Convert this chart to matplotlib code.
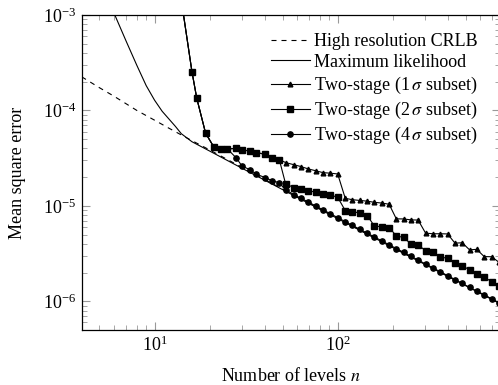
import numpy as np
import matplotlib
matplotlib.use('Agg')
import matplotlib.pyplot as plt

plt.rcParams['font.family'] = 'serif'
plt.rcParams['font.serif'] = ['Liberation Serif', 'DejaVu Serif']
plt.rcParams['mathtext.fontset'] = 'stix'

# high resolution CRLB (dashed)
crlb_n = [4, 5, 6, 8, 10, 12, 15, 20, 30, 50, 100, 200, 400, 770]
crlb = [2.25e-4, 1.73e-4, 1.41e-4, 1.0e-4, 7.9e-5, 6.5e-5, 5.15e-5, 3.85e-5,
        2.53e-5, 1.5e-5, 7.4e-6, 3.67e-6, 1.83e-6, 9.5e-7]

# maximum likelihood (solid)
ml_n = [5, 6, 7, 8, 9, 10, 11, 12, 13, 14, 16, 20, 30, 50, 100, 200, 400, 770]
ml = [2.4e-3, 1.05e-3, 5.3e-4, 2.97e-4, 1.82e-4, 1.28e-4, 9.8e-5, 8.1e-5, 6.8e-5,
      5.7e-5, 4.7e-5, 3.75e-5, 2.48e-5, 1.48e-5, 7.35e-6, 3.65e-6, 1.82e-6, 9.45e-7]

# two-stage estimators, number of levels
n = [14, 16, 17, 19, 21, 23, 25, 28, 30, 33, 36, 40, 44, 48, 52, 58, 63, 69, 76,
     83, 91, 100, 110, 120, 132, 145, 158, 174, 191, 209, 229, 251, 275, 302,
     331, 363, 398, 437, 479, 525, 575, 631, 692, 759]

sub1 = [1.43e-3, 2.55e-4, 1.34e-4, 5.77e-5, 4.18e-5, 3.95e-5, 3.95e-5, 4.0e-5,
        3.86e-5, 3.76e-5, 3.61e-5, 3.48e-5, 3.2e-5, 3.05e-5,
        2.84e-5, 2.69e-5, 2.58e-5, 2.44e-5, 2.33e-5, 2.23e-5, 2.2e-5, 2.16e-5,
        1.2e-5, 1.16e-5, 1.14e-5, 1.12e-5, 1.09e-5, 1.07e-5, 1.04e-5,
        7.31e-6, 7.29e-6, 7.13e-6, 7.1e-6, 5.18e-6, 5.1e-6, 5.1e-6, 5.08e-6,
        4.07e-6, 4.1e-6, 3.46e-6, 3.5e-6, 2.94e-6, 2.93e-6, 2.57e-6]

sub2 = [1.43e-3, 2.55e-4, 1.34e-4, 5.77e-5, 4.18e-5, 3.95e-5, 3.95e-5, 4.0e-5,
        3.86e-5, 3.76e-5, 3.61e-5, 3.48e-5, 3.2e-5, 3.05e-5,
        1.69e-5, 1.55e-5, 1.5e-5, 1.44e-5, 1.39e-5, 1.34e-5, 1.3e-5, 1.23e-5,
        8.93e-6, 8.72e-6, 8.4e-6, 7.91e-6, 6.22e-6, 5.98e-6, 5.93e-6,
        4.85e-6, 4.66e-6, 4.0e-6, 3.91e-6, 3.38e-6, 3.27e-6, 2.9e-6, 2.83e-6,
        2.51e-6, 2.35e-6, 2.14e-6, 1.93e-6, 1.79e-6, 1.61e-6, 1.43e-6]

sub4 = [1.43e-3, 2.55e-4, 1.34e-4, 5.77e-5, 4.18e-5, 3.95e-5, 3.95e-5, 3.16e-5,
        2.62e-5, 2.4e-5, 2.15e-5, 1.98e-5, 1.83e-5, 1.75e-5,
        1.46e-5, 1.31e-5, 1.2e-5, 1.1e-5, 9.95e-6, 9.1e-6, 8.29e-6, 7.53e-6,
        6.84e-6, 6.26e-6, 5.69e-6, 5.17e-6, 4.74e-6, 4.3e-6, 3.91e-6,
        3.57e-6, 3.26e-6, 2.97e-6, 2.7e-6, 2.46e-6, 2.24e-6, 2.04e-6, 1.86e-6,
        1.69e-6, 1.54e-6, 1.4e-6, 1.28e-6, 1.17e-6, 1.06e-6, 9.67e-7]

fs = 13

fig = plt.figure(figsize=(4.98, 3.85), dpi=100)
ax = fig.add_axes([81.7 / 498, 55 / 385, (500 - 81.7) / 498, 315 / 385])

ax.plot(crlb_n, crlb, color='k', lw=0.8, dashes=(4.5, 4.5), label='High resolution CRLB')
ax.plot(ml_n, ml, color='k', lw=0.8, label='Maximum likelihood')
ax.plot(n, sub1, color='k', lw=0.8, marker='^', ms=3.4, label=r'Two-stage (1$\,\sigma$ subset)')
ax.plot(n, sub2, color='k', lw=0.8, marker='s', ms=4.1, label=r'Two-stage (2$\,\sigma$ subset)')
ax.plot(n, sub4, color='k', lw=0.8, marker='o', ms=3.8, label=r'Two-stage (4$\,\sigma$ subset)')

ax.set_xscale('log')
ax.set_yscale('log')
ax.set_xlim(4, 770)
ax.set_ylim(5e-7, 1e-3)

ax.tick_params(which='both', direction='in', top=True, right=True,
               color='#999999', labelsize=fs)
ax.tick_params(which='major', length=5.5, pad=4)
ax.tick_params(which='minor', length=3.5)
for s in ax.spines.values():
    s.set_linewidth(0.9)

ax.set_xlabel('Number of levels $n$', fontsize=fs, labelpad=8.5)
ax.set_ylabel('Mean square error', fontsize=fs, labelpad=12)

ax.legend(loc='upper right', bbox_to_anchor=(0.985, 0.995), frameon=False,
          fontsize=fs, handlelength=2.2, handletextpad=0.2, labelspacing=0.22)

fig.savefig('out.png', dpi=100)
